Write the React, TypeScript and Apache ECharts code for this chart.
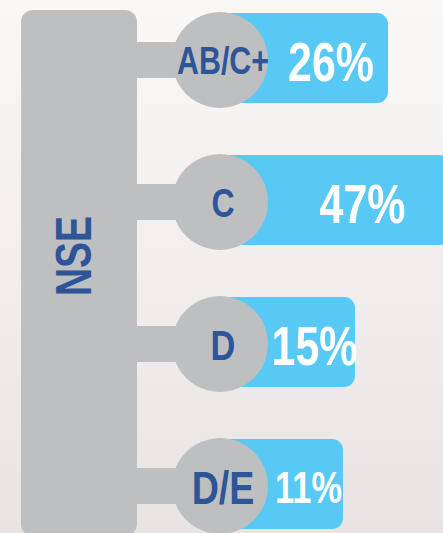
import { useEffect, useRef } from "react";
import * as echarts from "echarts";

// Socio-economic level (NSE) breakdown
const groupTitle = "NSE";
const categories = ["AB/C+", "C", "D", "D/E"];
const shares = [26, 47, 15, 11];
const valueLabels = ["26%", "47%", "15%", "11%"];

// Styling
const GREY = "#bebfc1";
const SKY = "#58c9f5";
const NAVY = "#2e5597";
const FONT = '"Liberation Sans", Arial, sans-serif';
const NARROW = 0.8; // horizontal squeeze for a condensed look
const categoryFontSizes = [38, 40, 43, 47];
const valueFontSizes = [55, 55, 55, 44];

export default function App() {
  const ref = useRef<HTMLDivElement>(null);

  useEffect(() => {
    document.body.style.margin = "0";
    const el = ref.current!;
    const chart = echarts.init(el, null, { renderer: "svg" });

    const R = 48; // bubble radius
    const PANEL_RIGHT = 137;

    chart.setOption({
      animation: false,
      backgroundColor: "transparent",
      grid: { left: 220, top: 60, bottom: 47, width: 243 },
      xAxis: { type: "value", min: -30, max: 51, show: false },
      yAxis: {
        type: "category",
        data: categories,
        inverse: true,
        boundaryGap: false,
        show: false,
      },
      graphic: [
        {
          type: "rect",
          z: 0,
          shape: { x: 21, y: 10, width: PANEL_RIGHT - 21, height: 526, r: 12 },
          style: { fill: GREY },
        },
        {
          type: "text",
          z: 1,
          x: 74,
          y: 256,
          rotation: Math.PI / 2,
          scaleX: 0.78,
          style: {
            text: groupTitle,
            fill: NAVY,
            font: `bold 50px ${FONT}`,
            align: "center",
            verticalAlign: "middle",
          },
        },
      ],
      series: [
        {
          type: "custom",
          clip: false,
          data: shares.map((v, i) => [v, i]),
          encode: { x: 0, y: 1 },
          renderItem: (params: any, api: any) => {
            const i = params.dataIndex;
            const end = api.coord([api.value(0), api.value(1)]);
            const cx = params.coordSys.x;
            const cy = end[1];
            const barEnd = end[0];
            return {
              type: "group",
              children: [
                {
                  type: "rect",
                  shape: {
                    x: PANEL_RIGHT - 4,
                    y: cy - 18,
                    width: cx - PANEL_RIGHT + 4,
                    height: 36,
                  },
                  style: { fill: GREY },
                },
                {
                  type: "rect",
                  shape: {
                    x: cx,
                    y: cy - 47,
                    width: barEnd - cx,
                    height: 90,
                    r: [0, 11, 11, 0],
                  },
                  style: { fill: SKY },
                },
                {
                  type: "circle",
                  shape: { cx, cy, r: R },
                  style: { fill: GREY },
                },
                {
                  type: "text",
                  x: cx + 3,
                  y: cy + 1,
                  scaleX: NARROW,
                  style: {
                    text: categories[i],
                    fill: NAVY,
                    font: `bold ${categoryFontSizes[i]}px ${FONT}`,
                    align: "center",
                    verticalAlign: "middle",
                  },
                },
                {
                  type: "text",
                  x: (cx + R + barEnd) / 2 + 3,
                  y: cy + 1,
                  scaleX: NARROW - 0.02,
                  style: {
                    text: valueLabels[i],
                    fill: "#ffffff",
                    font: `bold ${valueFontSizes[i]}px ${FONT}`,
                    align: "center",
                    verticalAlign: "middle",
                  },
                },
              ],
            };
          },
        },
      ],
    });

    return () => chart.dispose();
  }, []);

  return (
    <div
      style={{
        position: "fixed",
        left: 0,
        top: 0,
        width: 443,
        height: 533,
        overflow: "hidden",
        background: "linear-gradient(180deg, #faf7f7 0%, #f2eeee 50%, #e8e4e4 100%)",
      }}
    >
      <div ref={ref} style={{ width: 500, height: 533 }} />
    </div>
  );
}
